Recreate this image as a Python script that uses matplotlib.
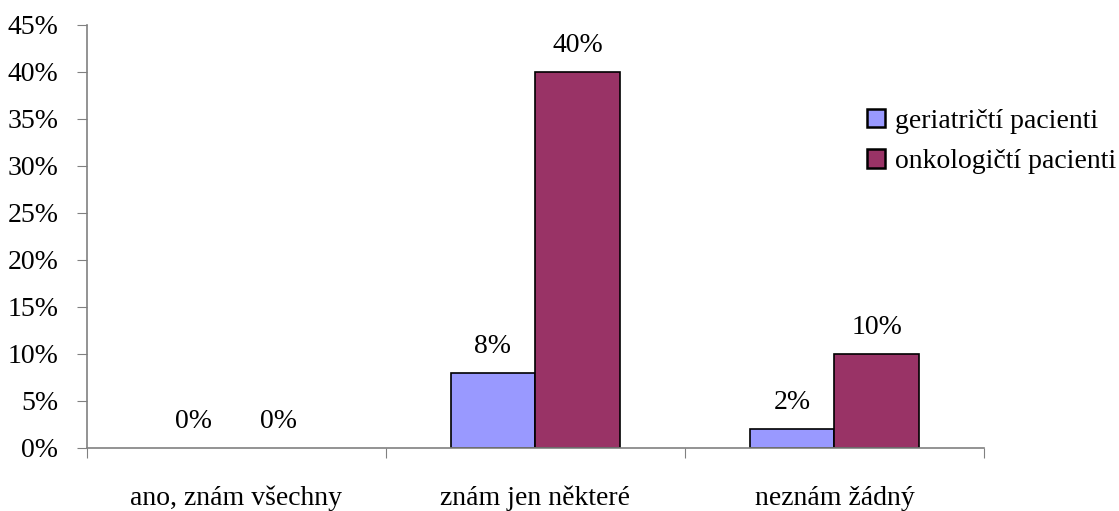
import numpy as np
import matplotlib.pyplot as plt

plt.rcParams['font.family'] = ['Liberation Serif', 'DejaVu Serif']

categories = ['ano, znám všechny', 'znám jen některé', 'neznám žádný']
geriatric = [0, 8, 2]
oncology = [0, 40, 10]
series_names = ['geriatričtí pacienti', 'onkologičtí pacienti']

fs = 20
fig = plt.figure(figsize=(11.19, 5.11), dpi=100)
ax = fig.add_axes([0.0777, 0.1233, 0.8016, 0.8278])

x = np.arange(len(categories))
w = 0.284


def draw(offset, vals, color, name):
    # zero-height bars are left invisible
    lw = [1.2 if v else 0 for v in vals]
    bars = ax.bar(x + offset, vals, w, color=color, edgecolor='black',
                  linewidth=lw, label=name)
    for bar, v in zip(bars, vals):
        ax.annotate(f'{v}%', (bar.get_x() + bar.get_width() / 2, v),
                    xytext=(0, 14.4), textcoords='offset points',
                    ha='center', va='baseline', fontsize=fs)
    return bars


draw(-w / 2, geriatric, '#9999FF', series_names[0])
draw(w / 2, oncology, '#993366', series_names[1])

ax.set_xlim(-0.5, 2.5)
ax.set_ylim(0, 45)
ax.set_yticks(np.arange(0, 46, 5))
ax.set_yticklabels([f'{t}%' for t in range(0, 46, 5)], fontsize=fs)
ax.tick_params(axis='y', length=7.5, color='#808080', pad=13)

# category names under the axis, tick marks between the groups
ax.set_xticks([-0.5, 0.5, 1.5, 2.5])
ax.set_xticklabels([])
ax.tick_params(axis='x', length=7.5, color='#808080')
for xi, cat in zip(x, categories):
    ax.annotate(cat, (xi, 0), xytext=(0, -41), textcoords='offset points',
                ha='center', va='baseline', fontsize=fs, annotation_clip=False)

for s in ('top', 'right'):
    ax.spines[s].set_visible(False)
for s in ('left', 'bottom'):
    ax.spines[s].set_color('#808080')
    ax.spines[s].set_linewidth(1.2)

leg = ax.legend(loc='upper left', bbox_to_anchor=(0.775, 0.787),
                bbox_transform=fig.transFigure, frameon=False, fontsize=fs,
                handlelength=0.65, handleheight=0.65, handletextpad=0.36,
                labelspacing=0.55, borderpad=0, borderaxespad=0)
for h in leg.legend_handles:
    h.set_edgecolor('black')
    h.set_linewidth(1.8)

fig.savefig('out.png', dpi=100)
